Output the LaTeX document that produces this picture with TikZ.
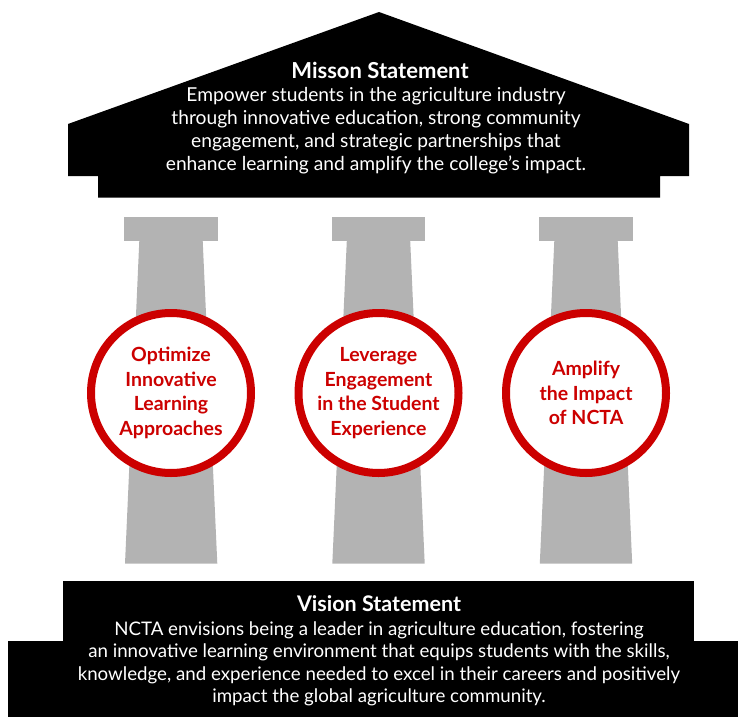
\documentclass[tikz,border=0pt]{standalone}
\usepackage{fontspec}
\setmainfont{Lato}
\usepackage{tikz}
\definecolor{pillargray}{RGB}{179,179,179}
\definecolor{nctared}{RGB}{204,0,0}
\tikzset{
  goal/.style={circle, draw=nctared, line width=8pt, fill=white, minimum size=160pt,
    inner sep=0pt, align=center, text=nctared, font=\bfseries\fontsize{19.5}{24.5}\selectfont},
  body/.style={text=white, align=center, font=\fontsize{19.2}{23}\selectfont},
  heading/.style={text=white, font=\bfseries\fontsize{22}{24}\selectfont}
}

\begin{document}
\begin{tikzpicture}[x=1pt, y=-1pt]
\useasboundingbox (0,0) rectangle (738,717);
% roof
\fill [black] (68,124) -- (379,12) -- (689,124) -- (689,176) -- (660,176) -- (660,197.7)
  -- (98,197.7) -- (98,176) -- (68,176) -- cycle;
% pillars
\fill [pillargray] (124.3,217.3) rectangle (217.7,240.7);
\fill [pillargray] (139.3,240.7) -- (202.7,240.7) -- (217.3,563.7) -- (125,563.7) -- cycle;
\fill [pillargray] (331.8,217.3) rectangle (425.2,240.7);
\fill [pillargray] (346.8,240.7) -- (410.2,240.7) -- (424.7,563.7) -- (332.3,563.7) -- cycle;
\fill [pillargray] (539.3,217.3) rectangle (632.7,240.7);
\fill [pillargray] (554.3,240.7) -- (617.7,240.7) -- (632.2,563.7) -- (539.8,563.7) -- cycle;
% base
\fill [black] (63.3,581) rectangle (694,641);
\fill [black] (7.7,641) rectangle (738,717);
% texts
\node [heading] (missiontitle) at (380,70) {Misson Statement};
\node [body] (missiontext) at (376,131) {Empower students in the agriculture industry\\
  through innovative education, strong community\\
  engagement, and strategic partnerships that\\
  enhance learning and amplify the college’s impact.};
\node [goal] (optimize) at (171,393) {Optimize\\Innovative\\Learning\\Approaches};
\node [goal] (leverage) at (378.5,393) {Leverage\\Engagement\\in the Student\\Experience};
\node [goal] (amplify) at (586,393) {Amplify\\the Impact\\of NCTA};
\node [heading, font=\bfseries\fontsize{21.5}{24}\selectfont] (visiontitle) at (379,604) {Vision Statement};
\node [body, font=\fontsize{18.7}{22.5}\selectfont] (visiontext) at (379,664) {NCTA envisions being a leader in agriculture education, fostering\\
  an innovative learning environment that equips students with the skills,\\
  knowledge, and experience needed to excel in their careers and positively\\
  impact the global agriculture community.};
\end{tikzpicture}
\end{document}
